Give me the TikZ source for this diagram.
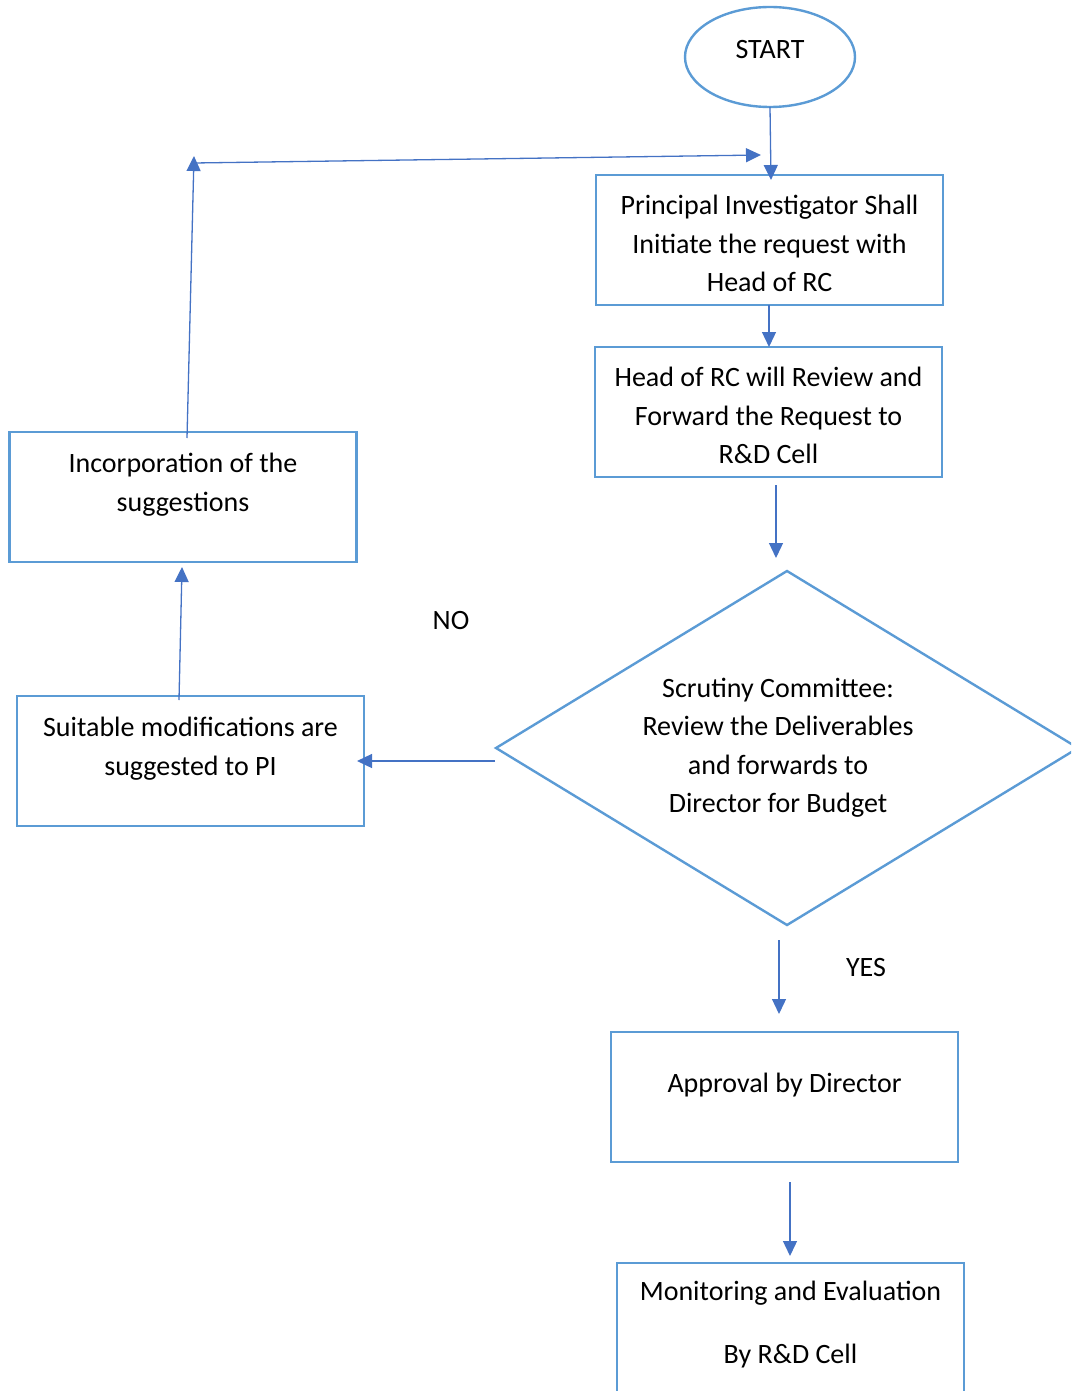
\documentclass[tikz,border=0pt]{standalone}
\usepackage{fontspec}
\setmainfont{Carlito}
\usetikzlibrary{arrows.meta,shapes.geometric}
\definecolor{boxblue}{HTML}{5B9BD5}
\definecolor{arrblue}{HTML}{4472C4}
\begin{document}
\begin{tikzpicture}[x=1pt,y=-1pt,
  box/.style={draw=boxblue,line width=2.4pt,minimum width=347pt,minimum height=130pt,inner sep=0pt},
  txt/.style={font=\fontsize{28}{38.5}\selectfont,align=center,inner sep=0pt,text=black},
  conn/.style={draw=arrblue,line width=1.3pt,-{Triangle[length=15pt,width=14pt]}}]
\useasboundingbox (0,0) rectangle (1071,1391);
\clip (0,0) rectangle (1071,1391);
% start
\node[ellipse,draw=boxblue,line width=2.4pt,minimum width=170pt,minimum height=100pt,inner sep=0pt] (start) at (770,57) {};
\node[txt] (tstart) at (770,49.5) {START};
% boxes
\node[box] (b1) at (769.5,240) {};
\node[txt] (tb1) at (769.5,243.5) {Principal Investigator Shall\\Initiate the request with\\Head of RC};
\node[box] (b2) at (768.5,412) {};
\node[txt] (tb2) at (768.5,415.5) {Head of RC will Review and\\Forward the Request to\\R\&D Cell};
\node[box] (inc) at (183,497) {};
\node[txt] (tinc) at (183,484.5) {Incorporation of the\\suggestions};
\node[box] (suit) at (190.5,761) {};
\node[txt] (tsuit) at (190.5,748.5) {Suitable modifications are\\suggested to PI};
\node[box] (appr) at (784.5,1097) {};
\node[txt] (tappr) at (784.5,1085.5) {Approval by Director};
\node[box] (mon) at (790.5,1328) {};
\node[txt] (tmon1) at (790.5,1293.5) {Monitoring and Evaluation};
\node[txt] (tmon2) at (790.5,1356.5) {By R\&D Cell};
% diamond
\coordinate (dl) at (496,748);
\coordinate (dt) at (787,571);
\coordinate (dr) at (1078,748);
\coordinate (db) at (787,925);
\draw[draw=boxblue,line width=2.4pt,line join=miter] (dl) -- (dt) -- (dr) -- (db) -- cycle;
\node[txt] (tdia) at (778,747.5) {Scrutiny Committee:\\Review the Deliverables\\and forwards to\\Director for Budget};
% labels
\node[txt] (no) at (451,620.5) {NO};
\node[txt] (yes) at (866,967.5) {YES};
% connector coordinates
\coordinate (s0) at (770,107);
\coordinate (s1) at (771,180);
\coordinate (a0) at (769,305);
\coordinate (a1) at (769,347);
\coordinate (c0) at (776,485);
\coordinate (c1) at (776,558);
\coordinate (n0) at (495,761);
\coordinate (n1) at (357,761);
\coordinate (m0) at (179,700);
\coordinate (m1) at (182,567);
\coordinate (i0) at (187,438);
\coordinate (i1) at (194,156);
\coordinate (h0) at (194,163);
\coordinate (h1) at (761,155);
\coordinate (y0) at (779,940);
\coordinate (y1) at (779,1014);
\coordinate (p0) at (790,1182);
\coordinate (p1) at (790,1256);
\draw[conn] (s0) -- (s1);
\draw[conn] (a0) -- (a1);
\draw[conn] (c0) -- (c1);
\draw[conn] (n0) -- (n1);
\draw[conn] (m0) -- (m1);
\draw[conn] (i0) -- (i1);
\draw[conn] (h0) -- (h1);
\draw[conn] (y0) -- (y1);
\draw[conn] (p0) -- (p1);
\end{tikzpicture}
\end{document}
